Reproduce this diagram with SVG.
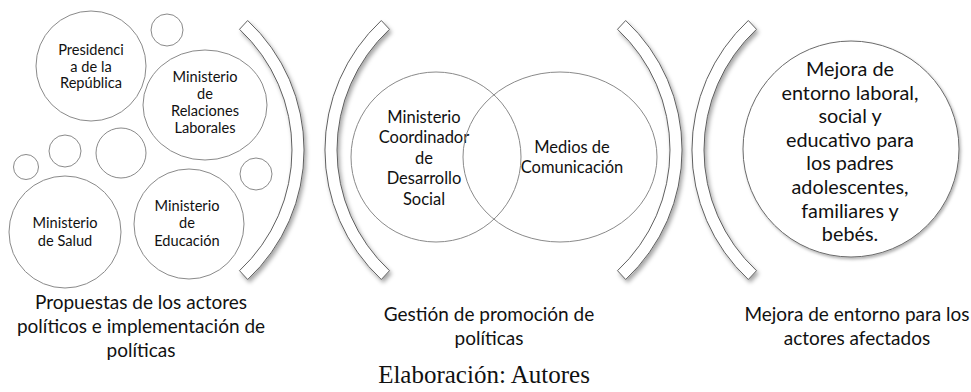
<svg xmlns="http://www.w3.org/2000/svg" width="971" height="392" viewBox="0 0 971 392">
<style>
.c{fill:#fff;stroke:#8a8a8a;stroke-width:1}
.v{fill:none;stroke:#8a8a8a;stroke-width:1}
.arc{fill:#fff;stroke:#606060;stroke-width:1;filter:url(#sh)}
.big{fill:#fff;stroke:#6a6a6a;stroke-width:1;filter:url(#sh2)}
text{font-family:Lato,"Liberation Sans",sans-serif;fill:#111;text-anchor:middle}
.s{font-size:14.6px}
.m{font-size:16.5px}
.l{font-size:19.8px}
.b{font-size:19px}
.cap{font-family:"Liberation Serif","Times New Roman",serif;font-size:25px}
</style>
<defs>
<filter id="sh" x="-30%" y="-10%" width="160%" height="125%">
<feDropShadow dx="2" dy="3" stdDeviation="2.2" flood-color="#000" flood-opacity="0.35"/>
</filter>
<filter id="sh2" x="-10%" y="-10%" width="125%" height="125%">
<feDropShadow dx="1.5" dy="2" stdDeviation="1.5" flood-color="#000" flood-opacity="0.3"/>
</filter>
</defs>

<g id="actores">
<g id="presidencia"><circle class="c" cx="91" cy="66" r="55"/>
<text class="s"><tspan x="91" y="55">Presidenci</tspan><tspan x="91" y="71.5">a de la</tspan><tspan x="91" y="88">República</tspan></text></g>
<g id="relaciones"><ellipse class="c" cx="205" cy="105" rx="62" ry="55"/>
<text class="s"><tspan x="205" y="82">Ministerio</tspan><tspan x="205" y="99">de</tspan><tspan x="205" y="116">Relaciones</tspan><tspan x="205" y="133">Laborales</tspan></text></g>
<g id="salud"><circle class="c" cx="65" cy="232" r="56"/>
<text class="s"><tspan x="65" y="228">Ministerio</tspan><tspan x="65" y="246">de Salud</tspan></text></g>
<g id="educacion"><circle class="c" cx="189" cy="224" r="55"/>
<text class="s"><tspan x="187" y="211">Ministerio</tspan><tspan x="187" y="228">de</tspan><tspan x="187" y="246">Educación</tspan></text></g>
<g id="pequenos">
<circle class="c" cx="167" cy="30" r="16"/>
<circle class="c" cx="26" cy="167" r="12.5"/>
<circle class="c" cx="65" cy="151" r="16"/>
<circle class="c" cx="121" cy="153" r="25"/>
<circle class="c" cx="256" cy="174" r="16"/>
</g>
</g>

<g id="brackets">
<path id="arc1" class="arc" d="M247.7 20.5 A177 177 0 0 1 247.7 279.5 L239.5 270.7 A165 165 0 0 0 239.5 29.3 Z"/>
<path id="arc2" class="arc" d="M381.3 20.5 A177 177 0 0 0 381.3 279.5 L389.5 270.7 A165 165 0 0 1 389.5 29.3 Z"/>
<path id="arc3" class="arc" d="M625.7 20.5 A177 177 0 0 1 625.7 279.5 L617.5 270.7 A165 165 0 0 0 617.5 29.3 Z"/>
<path id="arc4" class="arc" d="M748.3 20.5 A177 177 0 0 0 748.3 279.5 L756.5 270.7 A165 165 0 0 1 756.5 29.3 Z"/>
</g>

<g id="gestion">
<g id="coordinador"><circle class="v" cx="436" cy="157" r="85"/>
<text class="m"><tspan x="424" y="122.5">Ministerio</tspan><tspan x="424" y="143">Coordinador</tspan><tspan x="424" y="163.5">de</tspan><tspan x="424" y="184">Desarrollo</tspan><tspan x="424" y="204.5">Social</tspan></text></g>
<g id="medios"><ellipse class="v" cx="560" cy="157" rx="97" ry="85"/>
<text class="m"><tspan x="572" y="153">Medios de</tspan><tspan x="572" y="173">Comunicación</tspan></text></g>
</g>

<g id="mejora"><circle class="big" cx="851" cy="149" r="108"/>
<text class="l"><tspan x="850" y="76">Mejora de</tspan><tspan x="850" y="99.6">entorno laboral,</tspan><tspan x="850" y="123.2">social y</tspan><tspan x="850" y="146.8">educativo para</tspan><tspan x="850" y="170.4">los padres</tspan><tspan x="850" y="194">adolescentes,</tspan><tspan x="850" y="217.6">familiares y</tspan><tspan x="850" y="241.2">bebés.</tspan></text></g>

<g id="etiquetas">
<text class="b"><tspan x="141" y="309">Propuestas de los actores</tspan><tspan x="141" y="333">políticos e implementación de</tspan><tspan x="141" y="357">políticas</tspan></text>
<text class="b"><tspan x="489" y="321">Gestión de promoción de</tspan><tspan x="489" y="345">políticas</tspan></text>
<text class="b"><tspan x="857" y="321">Mejora de entorno para los</tspan><tspan x="857" y="345">actores afectados</tspan></text>
<text class="cap" x="484" y="383">Elaboración: Autores</text>
</g>
</svg>
